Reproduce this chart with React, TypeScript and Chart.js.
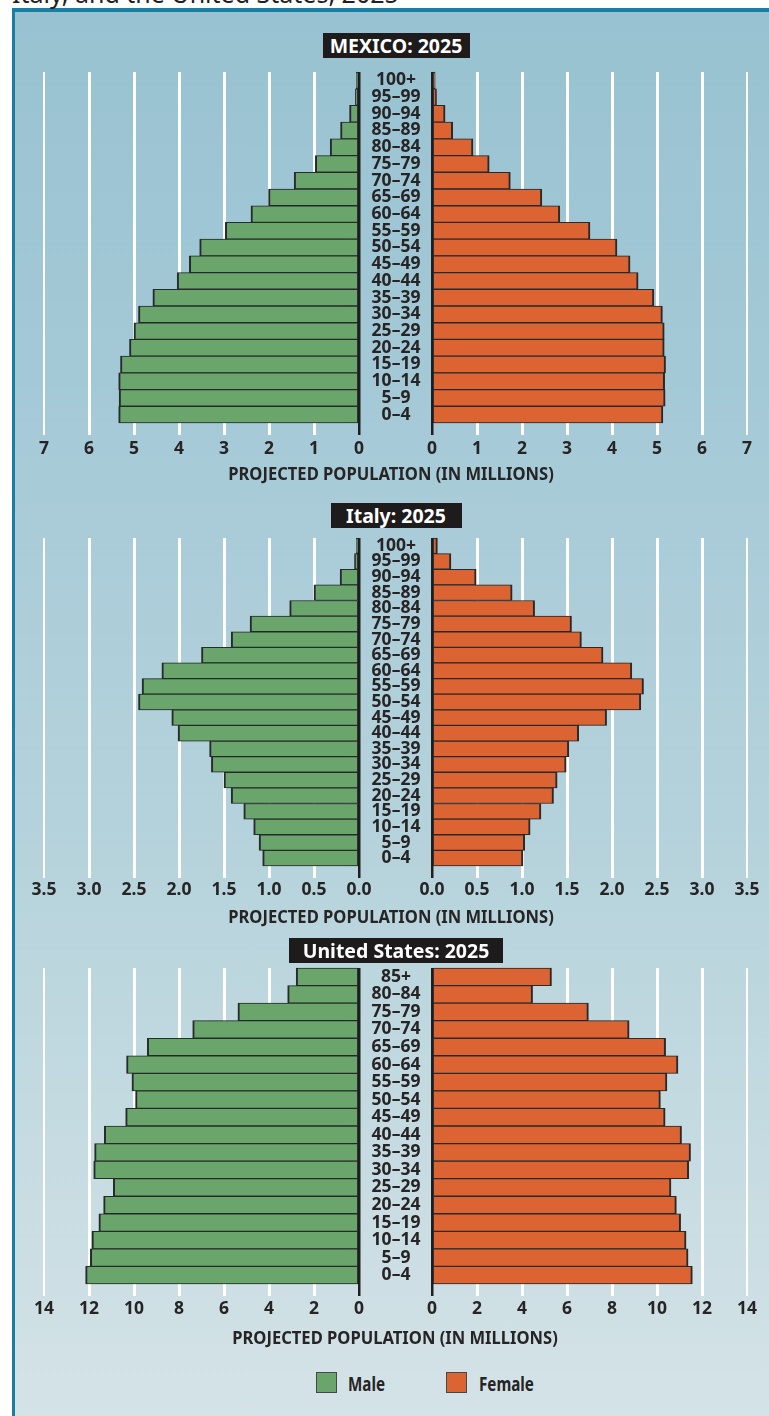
import React, { useEffect, useRef } from 'react';
import { Chart, registerables } from 'chart.js';

Chart.register(...registerables);

const FONT = "'Noto Sans', 'DejaVu Sans', sans-serif";
const TEXT = '#262424';
const GREEN = '#6aa66b';
const ORANGE = '#dc6332';
const EDGE = '#2a2a2a';

// ---------- data ----------
const ages21 = ['100+', '95–99', '90–94', '85–89', '80–84', '75–79', '70–74', '65–69', '60–64', '55–59', '50–54', '45–49', '40–44', '35–39', '30–34', '25–29', '20–24', '15–19', '10–14', '5–9', '0–4'];
const usAges = ['85+', '80–84', '75–79', '70–74', '65–69', '60–64', '55–59', '50–54', '45–49', '40–44', '35–39', '30–34', '25–29', '20–24', '15–19', '10–14', '5–9', '0–4'];

const mexicoMale = [0.06, 0.08, 0.21, 0.41, 0.64, 0.97, 1.44, 2.01, 2.40, 2.97, 3.54, 3.77, 4.04, 4.58, 4.90, 5.00, 5.10, 5.30, 5.34, 5.33, 5.34];
const mexicoFemale = [0.07, 0.10, 0.29, 0.46, 0.91, 1.27, 1.74, 2.44, 2.84, 3.51, 4.11, 4.40, 4.58, 4.93, 5.12, 5.16, 5.16, 5.19, 5.17, 5.18, 5.13];

const italyMale = [0.03, 0.05, 0.21, 0.50, 0.77, 1.21, 1.42, 1.75, 2.19, 2.41, 2.45, 2.08, 2.01, 1.66, 1.64, 1.50, 1.42, 1.28, 1.17, 1.11, 1.07];
const italyFemale = [0.06, 0.21, 0.49, 0.89, 1.14, 1.55, 1.66, 1.90, 2.22, 2.35, 2.32, 1.94, 1.63, 1.52, 1.49, 1.39, 1.35, 1.21, 1.09, 1.03, 1.01];

const usMale = [2.79, 3.17, 5.38, 7.39, 9.41, 10.33, 10.09, 9.93, 10.37, 11.32, 11.75, 11.79, 10.92, 11.35, 11.56, 11.87, 11.94, 12.15];
const usFemale = [5.31, 4.47, 6.95, 8.76, 10.38, 10.93, 10.44, 10.15, 10.36, 11.09, 11.49, 11.41, 10.62, 10.86, 11.05, 11.29, 11.38, 11.57];

const mexicoTicks = [0, 1, 2, 3, 4, 5, 6, 7];
const italyTicks = [0, 0.5, 1, 1.5, 2, 2.5, 3, 3.5];
const usTicks = [0, 2, 4, 6, 8, 10, 12, 14];

const captionText = 'Italy, and the United States, 2025';
const axisTitleText = 'PROJECTED POPULATION (IN MILLIONS)';
const legendLabels = ['Male', 'Female'];

// ---------- layout ----------
const panels = [
  { title: 'MEXICO: 2025', ages: ages21, male: mexicoMale, female: mexicoFemale, ticks: mexicoTicks, decimals: 0, top: 72, bottom: 423, titleTop: 33, titleW: 147, axisY: 472.5, axisX: 390.5, tickPad: 3.5 },
  { title: 'Italy: 2025', ages: ages21, male: italyMale, female: italyFemale, ticks: italyTicks, decimals: 1, top: 538, bottom: 866, titleTop: 502.5, titleW: 131, axisY: 915.5, axisX: 391, tickPad: 2 },
  { title: 'United States: 2025', ages: usAges, male: usMale, female: usFemale, ticks: usTicks, decimals: 0, top: 968, bottom: 1284, titleTop: 938, titleW: 214, axisY: 1336.5, axisX: 395, tickPad: 2.5 },
];

const shadowPlugin = {
  id: 'barShadow',
  beforeDatasetsDraw(chart: any) {
    const c = chart.ctx;
    c.save();
    c.shadowColor = 'rgba(20, 50, 70, 0.28)';
    c.shadowBlur = 7;
    c.shadowOffsetX = 0;
    c.shadowOffsetY = 2;
  },
  afterDatasetsDraw(chart: any) {
    chart.ctx.restore();
  },
};

type HalfProps = {
  side: 'male' | 'female';
  ages: string[];
  values: number[];
  ticks: number[];
  decimals: number;
  top: number;
  bottom: number;
  tickPad: number;
};

function Half({ side, ages, values, ticks, decimals, top, bottom, tickPad }: HalfProps) {
  const ref = useRef<HTMLCanvasElement>(null);
  const canvasTop = top - 10;
  const height = bottom - top + 52;
  useEffect(() => {
    const canvas = ref.current;
    if (!canvas) return;
    const isMale = side === 'male';
    const labelFont = { family: FONT, size: 17.5, weight: 'bold' as const };
    const m = document.createElement('canvas').getContext('2d')!;
    m.font = `bold 17.5px ${FONT}`;
    const widest = Math.max(...ages.map((a) => m.measureText(a).width));
    const agePad = 37 - widest / 2;
    const maxTick = ticks[ticks.length - 1];
    const chart = new Chart(canvas, {
      type: 'bar',
      data: {
        labels: ages,
        datasets: [
          {
            data: values,
            backgroundColor: isMale ? GREEN : ORANGE,
            borderColor: EDGE,
            borderWidth: isMale ? { left: 2, right: 1, top: 1, bottom: 1 } : { left: 1, right: 2, top: 1, bottom: 1 },
            borderSkipped: false,
            barPercentage: 1,
            categoryPercentage: 1,
            clip: false,
          } as any,
        ],
      },
      options: {
        indexAxis: 'y',
        responsive: false,
        animation: false,
        events: [],
        layout: {
          autoPadding: false,
          padding: { top: 10, bottom: 2, left: isMale ? 44 : 432, right: isMale ? 337 : 22 },
        },
        plugins: { legend: { display: false }, tooltip: { enabled: false }, title: { display: false } },
        scales: {
          x: {
            type: 'linear',
            reverse: isMale,
            min: 0,
            max: maxTick,
            afterBuildTicks: (scale: any) => {
              scale.ticks = ticks.map((v) => ({ value: v }));
            },
            afterFit: (scale: any) => {
              scale.height = 40;
              scale.paddingLeft = 0;
              scale.paddingRight = 0;
            },
            ticks: {
              autoSkip: false,
              maxRotation: 0,
              padding: tickPad,
              color: TEXT,
              font: labelFont,
              callback: (v: any) => Number(v).toFixed(decimals),
            },
            grid: {
              color: (c: any) => (c.tick && c.tick.value === 0 ? '#1f1f1f' : '#ffffff'),
              lineWidth: (c: any) => (c.tick && c.tick.value === 0 ? 2.5 : c.tick && c.tick.value === maxTick ? 2 : 3),
              tickLength: 12,
              drawTicks: true,
            },
            border: { display: false },
          },
          y: {
            type: 'category',
            position: isMale ? 'right' : 'left',
            display: isMale,
            afterFit: (scale: any) => {
              scale.width = isMale ? 73 : 0;
              scale.paddingTop = 0;
              scale.paddingBottom = 0;
            },
            grid: { display: false, drawTicks: false },
            border: { display: false },
            ticks: {
              autoSkip: false,
              crossAlign: 'center',
              padding: agePad,
              color: TEXT,
              font: labelFont,
            },
          },
        },
      } as any,
      plugins: [shadowPlugin],
    });
    return () => chart.destroy();
  }, []);
  return (
    <canvas
      ref={ref}
      width={769}
      height={height}
      style={{ position: 'absolute', left: 0, top: canvasTop, width: 769, height }}
    />
  );
}

export default function App() {
  return (
    <div
      style={{
        position: 'absolute',
        left: 0,
        top: 0,
        width: 769,
        height: 1416,
        overflow: 'hidden',
        background: '#ffffff',
        fontFamily: FONT,
      }}
    >
      <div
        style={{
          position: 'absolute',
          left: 12,
          top: 8,
          width: 780,
          height: 1420,
          boxSizing: 'border-box',
          borderTop: '4px solid #1a7ea3',
          borderLeft: '3.5px solid #1a7ea3',
          background: 'linear-gradient(180deg, #98c2d1 0%, #a6cad7 30%, #b6d3dc 60%, #d5e3e7 100%)',
        }}
      />
      <div
        style={{
          position: 'absolute',
          left: 12,
          top: -19.5,
          fontSize: 25,
          lineHeight: '25px',
          whiteSpace: 'nowrap',
          color: '#231f20',
        }}
      >
        {captionText}
      </div>

      {panels.map((p) => (
        <React.Fragment key={p.title}>
          <div
            style={{
              position: 'absolute',
              left: 396 - p.titleW / 2,
              top: p.titleTop,
              width: p.titleW,
              height: 25,
              background: '#1d1b1b',
              color: '#ffffff',
              fontWeight: 'bold',
              fontSize: 19.5,
              lineHeight: '25px',
              textAlign: 'center',
              whiteSpace: 'nowrap',
            }}
          >
            {p.title}
          </div>
          <Half side="male" ages={p.ages} values={p.male} ticks={p.ticks} decimals={p.decimals} top={p.top} bottom={p.bottom} tickPad={p.tickPad} />
          <Half side="female" ages={p.ages} values={p.female} ticks={p.ticks} decimals={p.decimals} top={p.top} bottom={p.bottom} tickPad={p.tickPad} />
          <div
            style={{
              position: 'absolute',
              left: p.axisX,
              top: p.axisY,
              transform: 'translate(-50%, -50%) scaleX(0.92)',
              fontSize: 18,
              lineHeight: '18px',
              fontWeight: 'bold',
              color: TEXT,
              whiteSpace: 'nowrap',
            }}
          >
            {axisTitleText}
          </div>
        </React.Fragment>
      ))}

      {legendLabels.map((lab, i) => (
        <React.Fragment key={lab}>
          <div
            style={{
              position: 'absolute',
              left: i === 0 ? 316 : 446,
              top: 1372,
              width: 21,
              height: 21,
              boxSizing: 'border-box',
              border: '1.5px solid #474747',
              background: i === 0 ? GREEN : ORANGE,
            }}
          />
          <div
            style={{
              position: 'absolute',
              left: i === 0 ? 348 : 479,
              top: 1375,
              fontSize: 19,
              lineHeight: '19px',
              fontWeight: 'bold',
              color: TEXT,
              whiteSpace: 'nowrap',
              transform: 'scaleX(0.8)',
              transformOrigin: 'left center',
            }}
          >
            {lab}
          </div>
        </React.Fragment>
      ))}
    </div>
  );
}
